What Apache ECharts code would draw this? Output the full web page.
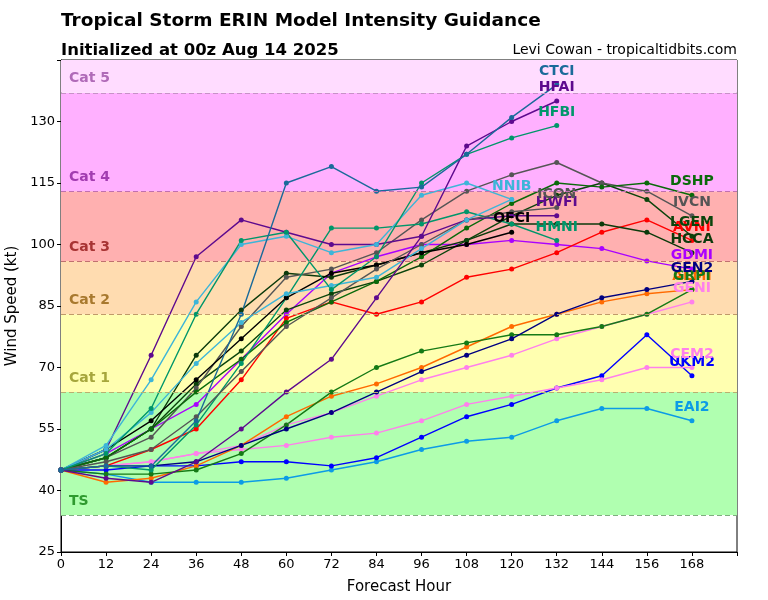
<!DOCTYPE html>
<html><head><meta charset="utf-8">
<script src="https://cdn.jsdelivr.net/npm/echarts@6/dist/echarts.min.js"></script>
<style>html,body{margin:0;padding:0;background:#fff}#c{width:768px;height:600px}</style>
</head><body><div id="c"></div>
<script>
const hours = [0,12,24,36,48,60,72,84,96,108,120,132,144,156,168];
const CTCI = [45,46,46,57,83,115,119,113,114,122,131,139];
const HFAI = [45,43,42,47,55,64,72,87,102,124,130,135];
const HFBI = [45,49,60,83,101,103,89,97,115,122,126,129];
const NNIB = [45,51,67,86,100,102,98,100,112,115,111];
const NNIC = [45,50,59,71,81,88,90,92,99,106,111];
const ICON = [45,47,50,58,69,80,87,94,100,106,108,109];
const HWFI = [45,50,73,97,106,103,100,100,102,106,107,107];
const OFCI = [45,50,57,67,77,87,93,95,98,100,103];
const HMNI = [45,46,45,56,71,87,104,104,105,108,105,101];
const DSHP = [45,48,55,64,72,81,86,91,97,104,110,115,114,115,112];
const IVCN = [45,48,53,65,80,92,94,98,106,113,117,120,115,113,107];
const LGEM = [45,48,55,66,74,84,88,91,95,101,107,112,115,111,102];
const AVNI = [45,46,50,55,67,82,86,83,86,92,94,98,103,106,101];
const HCCA = [45,48,55,73,84,93,92,95,98,101,105,105,105,103,98];
const GDMI = [45,49,55,61,72,83,93,97,100,100,101,100,99,96,94];
const GEN2 = [45,46,46,47,51,55,59,64,69,73,77,83,87,89,91];
const AEMI = [45,42,43,46,51,58,63,66,70,75,80,83,86,88,89];
const GRPI = [45,44,44,45,49,56,64,70,74,76,78,78,80,83,89];
const GENI = [45,46,47,49,51,56,59,63,67,70,73,77,80,83,86];
const CEM2 = [45,46,47,49,50,51,53,54,57,61,63,65,67,70,70];
const UKM2 = [45,45,46,46,47,47,46,48,53,58,61,65,68,78,68];
const EAI2 = [45,44,42,42,42,43,45,47,50,52,53,57,60,60,57];

const bandNames = ['TS','Cat 1','Cat 2','Cat 3','Cat 4','Cat 5'];
const bandLow = [34,64,83,96,113,137];
const bandHigh = [64,83,96,113,137,145];
const yTicks = [25,40,55,70,85,100,115,130];
const xTicks = [0,12,24,36,48,60,72,84,96,108,120,132,144,156,168];

const bandFill = ['#b0ffb0','#ffffb0','#ffdcb0','#ffb0b0','#ffb0ff','#ffdcff'];
const bandText = ['#2f9a2f','#a6a63c','#a8792e','#a83434','#a23cb0','#b06ab8'];
const bandLine = ['#7fae7f','#b8b070','#c09a6a','#c07070','#c070b0','#c890c8'];

const models = [
  ['EAI2', EAI2, '#0c9be6', true],
  ['UKM2', UKM2, '#0000ff', true],
  ['CEM2', CEM2, '#ff80ec', true],
  ['GENI', GENI, '#ff80ec', true],
  ['AEMI', AEMI, '#ff6a00', true],
  ['GRPI', GRPI, '#157a15', true],
  ['GEN2', GEN2, '#000080', true],
  ['GDMI', GDMI, '#aa00ff', true],
  ['AVNI', AVNI, '#ff0000', true],
  ['HCCA', HCCA, '#0b3a0b', true],
  ['LGEM', LGEM, '#0b440b', true],
  ['IVCN', IVCN, '#555555', true],
  ['DSHP', DSHP, '#0a6a0a', true],
  ['HMNI', HMNI, '#00966a', true],
  ['OFCI', OFCI, '#000000', true],
  ['HWFI', HWFI, '#5e0a8e', true],
  ['ICON', ICON, '#555555', true],
  ['NNIC', NNIC, '#3db5d8', false],
  ['NNIB', NNIB, '#3db5d8', true],
  ['HFBI', HFBI, '#00966a', true],
  ['HFAI', HFAI, '#5e0a8e', true],
  ['CTCI', CTCI, '#1a6a9a', true]
];

const series = [];
series.push({
  type: 'line', data: [], silent: true, z: 1,
  markArea: {
    silent: true,
    data: bandNames.map((n, i) => [
      {yAxis: bandLow[i], name: n, itemStyle: {color: bandFill[i]},
       label: {show: true, color: bandText[i]}},
      {yAxis: bandHigh[i]}
    ]),
    label: {show: true, position: 'insideBottomLeft', distance: 7, offset: [1, 0],
            fontFamily: 'DejaVu Sans', fontWeight: 'bold', fontSize: 14}
  },
  markLine: {
    silent: true, symbol: 'none', label: {show: false},
    data: bandNames.map((n, i) => ({yAxis: bandLow[i],
      lineStyle: {color: bandLine[i], type: [5, 3], width: 1.2}}))
  }
});
models.forEach(([name, vals, color, lab]) => {
  const data = vals.map((v, i) => {
    const p = {value: [hours[i], v]};
    if (lab && i === vals.length - 1) {
      p.label = {show: true, position: 'top', distance: 4, formatter: name,
        color: color, fontFamily: 'DejaVu Sans', fontWeight: 'bold', fontSize: 14};
    }
    return p;
  });
  series.push({
    name: name, type: 'line', data: data, z: 3,
    symbol: 'circle', symbolSize: 5, showSymbol: true,
    lineStyle: {color: color, width: 1.4},
    itemStyle: {color: color},
    label: {show: false},
    emphasis: {disabled: true}, animation: false
  });
});

const chart = echarts.init(document.getElementById('c'), null, {renderer: 'canvas'});
chart.setOption({
  animation: false,
  backgroundColor: '#ffffff',
  title: [
    {text: 'Tropical Storm ERIN Model Intensity Guidance', left: 61, top: 12, padding: 0,
     textStyle: {fontFamily: 'DejaVu Sans', fontWeight: 'bold', fontSize: 18.5, color: '#000'}},
    {text: 'Initialized at 00z Aug 14 2025', left: 61, top: 42, padding: 0,
     textStyle: {fontFamily: 'DejaVu Sans', fontWeight: 'bold', fontSize: 16.5, color: '#000'}},
    {text: 'Levi Cowan - tropicaltidbits.com', right: 31, top: 43, padding: 0,
     textStyle: {fontFamily: 'DejaVu Sans', fontWeight: 'normal', fontSize: 14, color: '#000'}}
  ],
  grid: {left: 61, right: 31, top: 60, bottom: 48, show: true, outerBoundsMode: 'none',
         containLabel: false, borderColor: '#000', borderWidth: 1},
  xAxis: {
    type: 'value', min: 0, max: 180, interval: 12,
    name: 'Forecast Hour', nameLocation: 'middle', nameGap: 28,
    nameTextStyle: {fontFamily: 'DejaVu Sans', fontSize: 15, color: '#000'},
    axisLine: {show: true, lineStyle: {color: '#000'}},
    axisTick: {show: true, length: 4, lineStyle: {color: '#000'}},
    axisLabel: {fontFamily: 'DejaVu Sans', fontSize: 13, color: '#000', margin: 6,
      formatter: v => xTicks.indexOf(v) >= 0 ? String(v) : ''},
    splitLine: {show: false}
  },
  yAxis: {
    type: 'value', min: 25, max: 145, interval: 15,
    name: 'Wind Speed (kt)', nameLocation: 'middle', nameGap: 41,
    nameTextStyle: {fontFamily: 'DejaVu Sans', fontSize: 15, color: '#000'},
    axisLine: {show: true, lineStyle: {color: '#000'}},
    axisTick: {show: true, length: 4, lineStyle: {color: '#000'}},
    axisLabel: {fontFamily: 'DejaVu Sans', fontSize: 13, color: '#000', margin: 6,
      formatter: v => yTicks.indexOf(v) >= 0 ? String(v) : ''},
    splitLine: {show: false}
  },
  series: series
});
</script></body></html>
